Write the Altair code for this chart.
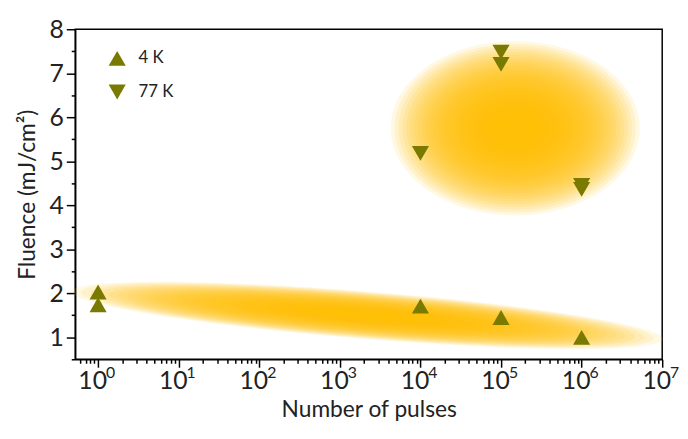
import altair as alt
import pandas as pd
import numpy as np

# ---------------- data ----------------
series_names = ["4 K", "77 K"]
k4_pulses = [1, 1, 1e4, 1e5, 1e6]
k4_fluence = [2.03, 1.74, 1.71, 1.45, 1.0]
k77_pulses = [1e4, 1e5, 1e5, 1e6, 1e6]
k77_fluence = [5.18, 7.48, 7.2, 4.45, 4.36]

# glow regions (centres in data units)
glow_pulses = [2200, 1.5e5]
glow_fluence = [1.5, 5.75]

x_major = [1, 10, 100, 1000, 1e4, 1e5, 1e6, 1e7]
x_exponents = ["0", "1", "2", "3", "4", "5", "6", "7"]
y_labels = [1, 2, 3, 4, 5, 6, 7, 8]

# ---------------- styling ----------------
OLIVE = "#7A7A00"
GLOW = "#FFC000"
FONT = "Lato"
TXT = "#222"
W, H = 594, 334

x_minor = [m * d for d in [0.1] + x_major[:-1] for m in range(2, 10) if 0.52 <= m * d <= 1e7]
x_ticks = sorted(set(x_minor + x_major))
major_test = "indexof([" + ",".join(f"{v:g}" for v in x_major) + "], datum.value) >= 0"

xscale = alt.Scale(type="log", domain=[0.52, 1e7], nice=False)
yscale = alt.Scale(domain=[0.5, 8], nice=False, zero=False)

common_axis = dict(
    labelFontSize=25, titleFontSize=23, labelFont=FONT, titleFont=FONT,
    titleFontWeight="normal", labelColor=TXT, titleColor=TXT,
    domainColor="black", domainWidth=1.5, tickColor="black", tickWidth=1.5,
    grid=False, labelFlush=False, labelOverlap=False,
)
x_axis = alt.Axis(
    values=x_ticks, labelExpr=f"{major_test} ? '10' : ''", title="Number of pulses",
    tickSize={"condition": {"test": major_test, "value": 8}, "value": 4},
    labelPadding=2, labelOffset=-6, titlePadding=5,
    **common_axis,
)
y_axis = alt.Axis(
    values=[v / 2 for v in range(1, 17)],
    labelExpr="datum.value % 1 == 0 ? format(datum.value, 'd') : ''",
    title="Fluence (mJ/cm²)",
    tickSize={"condition": {"test": "datum.value % 1 == 0", "value": 9}, "value": 4},
    labelPadding=3, titlePadding=10,
    **common_axis,
)


def ellipse_path(a, b, ang_deg, n=120):
    t = np.linspace(0, 2 * np.pi, n, endpoint=False)
    th = np.radians(ang_deg)
    xs = a * np.cos(t) * np.cos(th) - b * np.sin(t) * np.sin(th)
    ys = a * np.cos(t) * np.sin(th) + b * np.sin(t) * np.cos(th)
    return "M " + " L ".join(f"{x:.4f} {y:.4f}" for x, y in zip(xs, ys)) + " Z"


N = 28
radii = 1 - 0.85 * (np.arange(N) / (N - 1))


def glow_layer(i, half_w_px, path):
    df = pd.DataFrame({
        "pulses": [glow_pulses[i]] * N,
        "fluence": [glow_fluence[i]] * N,
        "size": (2 * half_w_px * radii) ** 2,
    })
    return alt.Chart(df).mark_point(
        shape=path, filled=True, color=GLOW, fillOpacity=0.11, strokeWidth=0
    ).encode(
        x=alt.X("pulses:Q", scale=xscale, axis=x_axis),
        y=alt.Y("fluence:Q", scale=yscale, axis=y_axis),
        size=alt.Size("size:Q", scale=None, legend=None),
    )


glow_low = glow_layer(0, 300, ellipse_path(1, 0.08, 4.6))
glow_high = glow_layer(1, 126, ellipse_path(1, 0.70, 0))

pts = pd.DataFrame({
    "pulses": k4_pulses + k77_pulses,
    "fluence": k4_fluence + k77_fluence,
    "series": [series_names[0]] * len(k4_pulses) + [series_names[1]] * len(k77_pulses),
})

points = alt.Chart(pts).mark_point(filled=True, size=300, color=OLIVE, opacity=1).encode(
    x=alt.X("pulses:Q", scale=xscale, axis=x_axis),
    y=alt.Y("fluence:Q", scale=yscale, axis=y_axis),
    shape=alt.Shape(
        "series:N",
        scale=alt.Scale(domain=series_names, range=["triangle-up", "triangle-down"]),
        legend=alt.Legend(
            title=None, orient="none", legendX=33, legendY=20, padding=0,
            symbolSize=300, symbolFillColor=OLIVE, symbolStrokeColor=OLIVE,
            labelFontSize=17, labelFont=FONT, labelColor=TXT,
            rowPadding=13, labelOffset=12,
        ),
    ),
)

# superscript exponents of the decade labels
exp_df = pd.DataFrame({"pulses": x_major, "exp": x_exponents})
exponents = alt.Chart(exp_df).mark_text(
    align="left", baseline="top", dx=8, font=FONT, fontSize=16, color=TXT
).encode(
    x=alt.X("pulses:Q", scale=xscale, axis=x_axis),
    y=alt.value(H + 6),
    text="exp:N",
)

chart = alt.layer(glow_low, glow_high, points, exponents).properties(
    width=W, height=H,
    padding={"left": 68, "top": 19, "right": 18, "bottom": 64},
    autosize=alt.AutoSizeParams(type="none"),
    background="white",
).configure_view(
    stroke="black", strokeWidth=1.5
)

chart.save("out.html", embed_options={"renderer": "svg", "actions": False})
